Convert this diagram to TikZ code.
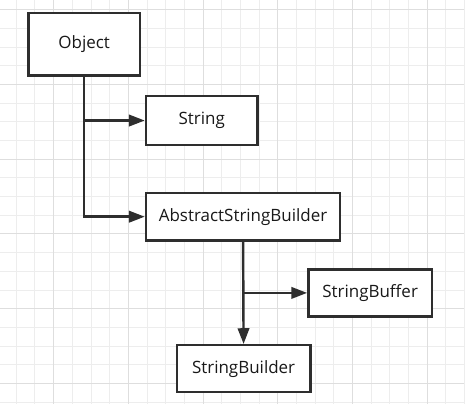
\documentclass[tikz,border=0pt]{standalone}
\usepackage{fontspec}
\setmainfont{Open Sans}
\usetikzlibrary{arrows.meta}
\definecolor{gridminor}{HTML}{EDEDED}
\definecolor{gridmajor}{HTML}{DEDEDE}
\definecolor{boxline}{HTML}{2E2E2E}
\tikzset{
	classbox/.style={draw=boxline, line width=1.4pt, fill=white, text=black!90,
		font=\fontsize{9.7}{12}\selectfont, inner sep=0pt},
	inherit/.style={draw=boxline, line width=1.4pt, -{Triangle[length=9pt, width=6.5pt]}}
}
\begin{document}
\begin{tikzpicture}[x=0.02cm, y=-0.02cm]
	% Background grid:
	\fill[white] (0, 0) rectangle (465, 405);
	\foreach \i in {0,...,24} {
		\pgfmathsetmacro{\gx}{15.8 + 18.75*\i}
		\draw[gridminor, line width=0.5pt] (\gx, 0) -- (\gx, 405);
	}
	\foreach \j in {0,...,21} {
		\pgfmathsetmacro{\gy}{9.3 + 18.75*\j}
		\draw[gridminor, line width=0.5pt] (0, \gy) -- (465, \gy);
	}
	\foreach \i in {0,...,5} \draw[gridmajor, line width=0.55pt] (53.3 + 75*\i, 0) -- (53.3 + 75*\i, 405);
	\foreach \j in {0,...,5} \draw[gridmajor, line width=0.55pt] (0, 9.3 + 75*\j) -- (465, 9.3 + 75*\j);
	\useasboundingbox (0, 0) rectangle (465, 405);
	% Classes:
	\node[classbox, minimum width=2.24cm, minimum height=1.26cm] (object) at (84, 44) {Object};
	\node[classbox, minimum width=2.24cm, minimum height=0.98cm] (string) at (202, 120.5) {String};
	\node[classbox, minimum width=3.9cm, minimum height=0.96cm] (asb) at (243.5, 217) {AbstractStringBuilder};
	\node[classbox, minimum width=2.48cm, minimum height=0.94cm] (buffer) at (371, 293.5) {StringBuffer};
	\node[classbox, minimum width=2.68cm, minimum height=0.94cm] (builder) at (244, 369.5) {StringBuilder};
	% Connectors:
	\coordinate (split1) at (object.south |- string.west);
	\coordinate (split2) at (asb.south |- buffer.west);
	\draw[inherit] (object.south) |- (asb.west);
	\draw[inherit] (split1) -- (string.west);
	\draw[inherit] (asb.south) -- (builder.north);
	\draw[inherit] (split2) -- (buffer.west);
\end{tikzpicture}
\end{document}
